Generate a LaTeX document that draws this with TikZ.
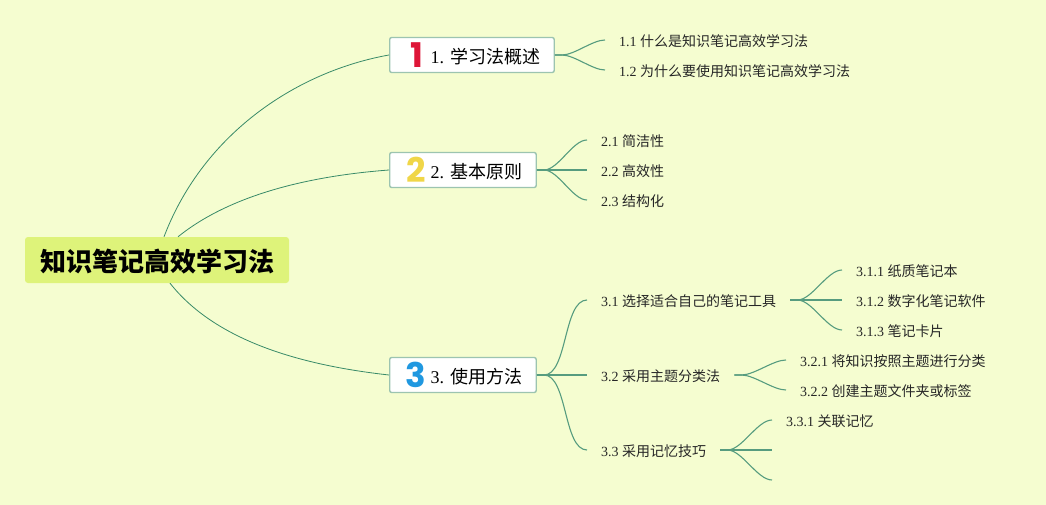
\documentclass[tikz,border=0pt]{standalone}
\usepackage{fontspec}
\usepackage{xcolor}
\setmainfont{Liberation Serif}
\newfontfamily\cjk{Noto Sans CJK SC}
\newfontfamily\digitfont{Poppins}
\usetikzlibrary{arrows.meta, calc}
\definecolor{mapBg}{RGB}{245,253,208}
\definecolor{mapRoot}{RGB}{222,243,122}
\definecolor{mapLine}{RGB}{56,138,104}
\definecolor{mapEdge}{RGB}{156,196,176}
\definecolor{mapR}{RGB}{222,22,56}
\definecolor{mapY}{RGB}{240,214,72}
\definecolor{mapB}{RGB}{32,152,224}
\tikzset{
  rootbox/.style={fill=mapRoot, rounded corners=3pt, inner xsep=15pt, inner ysep=0pt, minimum height=46pt,
    text height=24pt, text depth=2pt, font=\fontsize{26}{30}\selectfont\cjk\bfseries, text=black},
  branchbox/.style={draw=mapEdge, line width=1.4pt, fill=white, rounded corners=2pt, inner xsep=14pt, inner ysep=0pt,
    minimum height=35pt, text height=18pt, text depth=1pt, anchor=west, font=\fontsize{18}{22}\selectfont},
  leaf/.style={anchor=west, inner xsep=14pt, inner ysep=0pt, text height=14pt, text depth=1pt,
    font=\fontsize{14}{17}\selectfont, text=black!85},
  badge/.style={font=\fontsize{34}{36}\selectfont\digitfont\bfseries, inner sep=0pt},
  limb/.style={mapLine, line width=0.8pt},
  twig/.style={mapLine!85, line width=1.1pt}
}
\begin{document}
\begin{tikzpicture}[x=1pt, y=-1pt]
\fill[mapBg] (0,0) rectangle (1046,505);
\useasboundingbox (0,0) rectangle (1046,505);
% ===== root and first level =====
\node[rootbox] (root) at (157,260) {知识笔记高效学习法};
\node[branchbox] (b1) at (389,55) {\hspace*{27pt}1. {\cjk 学习法概述}};
\node[branchbox] (b2) at (389,170) {\hspace*{27pt}2. {\cjk 基本原则}};
\node[branchbox] (b3) at (389,375) {\hspace*{27pt}3. {\cjk 使用方法}};
\node[badge, mapR] (n1) at (417,55) {1};
\node[badge, mapY] (n2) at (416,170) {2};
\node[badge, mapB] (n3) at (416,375) {3};
% ===== second level =====
\node[leaf] (c11) at (605,40) {1.1 {\cjk 什么是知识笔记高效学习法}};
\node[leaf] (c12) at (605,70) {1.2 {\cjk 为什么要使用知识笔记高效学习法}};
\node[leaf] (c21) at (587,140) {2.1 {\cjk 简洁性}};
\node[leaf] (c22) at (587,170) {2.2 {\cjk 高效性}};
\node[leaf] (c23) at (587,200) {2.3 {\cjk 结构化}};
\node[leaf] (c31) at (587,300) {3.1 {\cjk 选择适合自己的笔记工具}};
\node[leaf] (c32) at (587,375) {3.2 {\cjk 采用主题分类法}};
\node[leaf] (c33) at (587,450) {3.3 {\cjk 采用记忆技巧}};
% ===== third level =====
\node[leaf] (d311) at (842,270) {3.1.1 {\cjk 纸质笔记本}};
\node[leaf] (d312) at (842,300) {3.1.2 {\cjk 数字化笔记软件}};
\node[leaf] (d313) at (842,330) {3.1.3 {\cjk 笔记卡片}};
\node[leaf] (d321) at (786,360) {3.2.1 {\cjk 将知识按照主题进行分类}};
\node[leaf] (d322) at (786,390) {3.2.2 {\cjk 创建主题文件夹或标签}};
\node[leaf] (d331) at (772,420) {3.3.1 {\cjk 关联记忆}};
\coordinate (d332) at (772,450);
\coordinate (d333) at (772,480);
% root to branches
\draw[limb] ([xshift=7pt]root.north) .. controls +(40,-105) and +(-90,16) .. (b1.west);
\draw[limb] ([xshift=21pt]root.north) .. controls +(52,-42) and +(-80,6) .. (b2.west);
\draw[limb] ([xshift=13pt]root.south) .. controls +(45,57) and +(-90,-10) .. (b3.west);
% branches to leaves
\foreach \from/\kids in {b1/{c11,c12}, b2/{c21,c22,c23}, b3/{c31,c32,c33}}{
  \foreach \kid in \kids
    \draw[twig] (\from.east) -- ++(7,0) to[out=0, in=180, looseness=0.7] (\kid.west);
}
\foreach \from/\kids in {c31/{d311,d312,d313}, c32/{d321,d322}}{
  \foreach \kid in \kids
    \draw[twig] (\from.east) -- ++(7,0) to[out=0, in=180, looseness=0.7] (\kid.west);
}
\foreach \kid in {d331,d332,d333}
  \draw[twig] (c33.east) -- ++(7,0) to[out=0, in=180, looseness=0.7] (\kid);
\end{tikzpicture}
\end{document}
